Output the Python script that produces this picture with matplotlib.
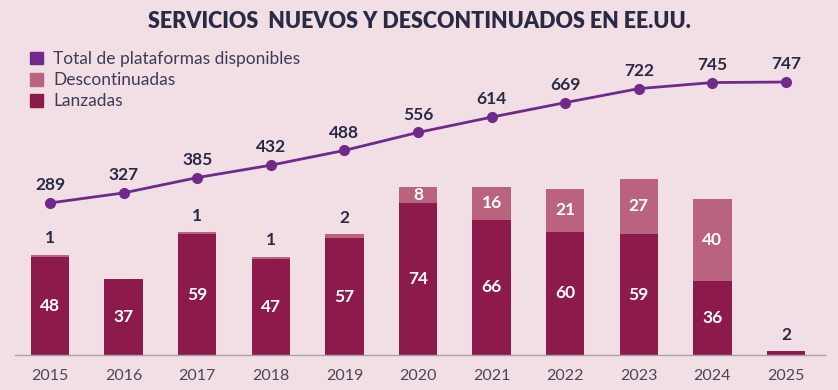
import numpy as np
import matplotlib.pyplot as plt
from matplotlib.patches import Patch

# Data
years = ['2015', '2016', '2017', '2018', '2019', '2020', '2021', '2022', '2023', '2024', '2025']
lanzadas = [48, 37, 59, 47, 57, 74, 66, 60, 59, 36, 2]
descontinuadas = [1, 0, 1, 1, 2, 8, 16, 21, 27, 40, 0]
total = [289, 327, 385, 432, 488, 556, 614, 669, 722, 745, 747]

C_LANZ = '#8C1A4B'
C_DESC = '#BA637F'
C_LINE = '#6F2A8C'
C_TEXT = '#2B2A45'
BG = '#F1DFE5'

plt.rcParams['font.family'] = ['Lato', 'DejaVu Sans']

fig = plt.figure(figsize=(8.38, 3.90), dpi=100, facecolor=BG)
ax = fig.add_axes([15/838, 35/390, 810/838, 315/390])
ax.set_facecolor('none')

x = np.arange(len(years))
w = 0.52
ax.bar(x, lanzadas, w, color=C_LANZ, zorder=2)
ax.bar(x, descontinuadas, w, bottom=lanzadas, color=C_DESC, zorder=2)

for i in x:
    l, d = lanzadas[i], descontinuadas[i]
    if l >= 10:
        ax.text(i, l / 2, str(l), ha='center', va='center', color='white',
                fontsize=12.5, fontweight='bold', zorder=3)
    else:
        ax.text(i, l + d + 4, str(l), ha='center', va='bottom', color=C_TEXT,
                fontsize=12.5, fontweight='bold', zorder=3)
    if d >= 5:
        ax.text(i, l + d / 2, str(d), ha='center', va='center', color='white',
                fontsize=12.5, fontweight='bold', zorder=3)
    elif d > 0:
        ax.text(i, l + d + 4, str(d), ha='center', va='bottom', color=C_TEXT,
                fontsize=12.5, fontweight='bold', zorder=3)

ax.set_xlim((15 - 50) / 73.6, (825 - 50) / 73.6)
ax.set_ylim(0, 315 / 2.05)
ax.set_xticks(x)
ax.set_xticklabels(years, fontsize=11.5, color='#4A4658')
ax.tick_params(axis='x', length=0, pad=10)
ax.set_yticks([])
for s in ['top', 'right', 'left']:
    ax.spines[s].set_visible(False)
ax.spines['bottom'].set_color('#A9A0A8')
ax.spines['bottom'].set_linewidth(1)

# Line on its own scale
ax2 = ax.twinx()
ax2.set_ylim(289 - 152 / 0.264, 747 + 42 / 0.264)
ax2.plot(x, total, color=C_LINE, lw=2, marker='o', ms=7, zorder=4)
for i, v in zip(x, total):
    ax2.annotate(str(v), (i, v), xytext=(0, 7), textcoords='offset points',
                 ha='center', va='bottom', color=C_TEXT, fontsize=12.5, fontweight='bold')
ax2.set_yticks([])
for s in ax2.spines.values():
    s.set_visible(False)

fig.text(0.5, 1 - 22/390, 'SERVICIOS  NUEVOS Y DESCONTINUADOS EN EE.UU.', ha='center',
         va='center', fontsize=15.5, fontweight='heavy', color=C_TEXT)

handles = [Patch(color=C_LINE), Patch(color=C_DESC), Patch(color=C_LANZ)]
labels = ['Total de plataformas disponibles', 'Descontinuadas', 'Lanzadas']
fig.legend(handles, labels, loc='upper left', bbox_to_anchor=(30/838, 1 - 51/390),
           frameon=False, fontsize=12.5, handlelength=0.75, handleheight=0.75,
           handletextpad=0.6, labelspacing=0.3, borderaxespad=0, borderpad=0,
           labelcolor='#3F3B55')

fig.savefig('out.png', facecolor=BG)
